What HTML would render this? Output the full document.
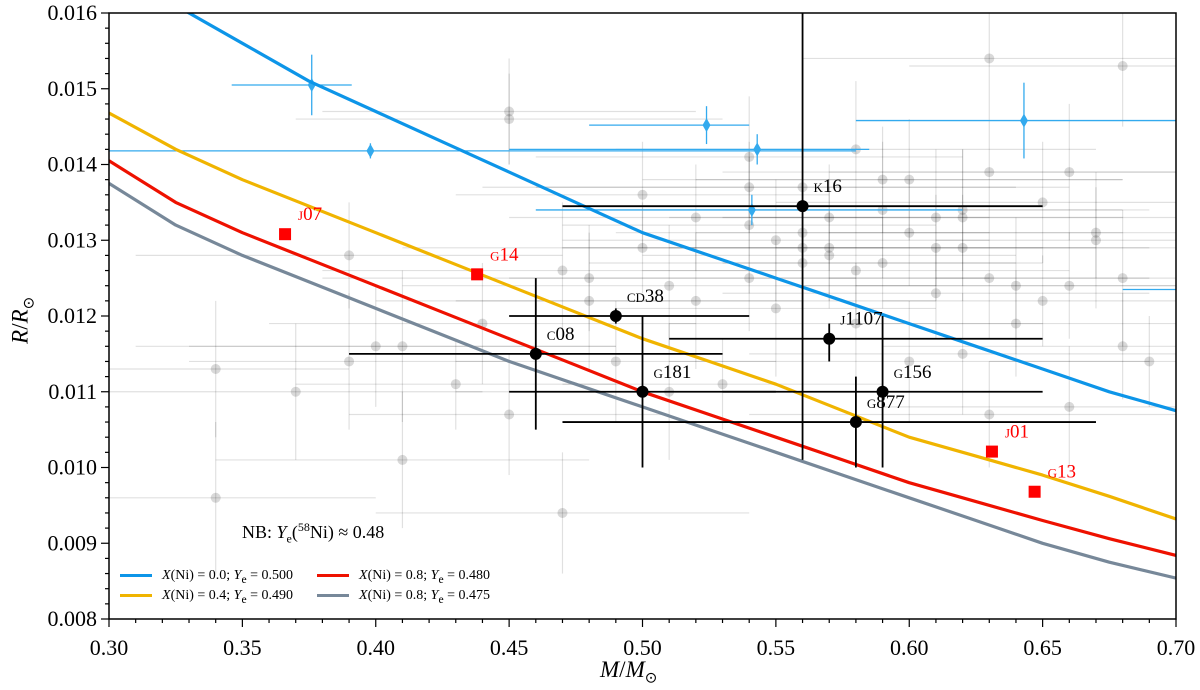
<!DOCTYPE html>
<html><head><meta charset="utf-8"><style>
body{margin:0;background:#fff}
svg{display:block;font-family:"Liberation Serif",serif}
</style></head><body>
<svg id="chart" width="1200" height="690"></svg>
<script>
const curveM=[0.30,0.325,0.35,0.375,0.40,0.425,0.45,0.475,0.50,0.525,0.55,0.575,0.60,0.625,0.65,0.675,0.70];
const blueR=[0.0167,0.0161,0.0156,0.0151,0.0147,0.0143,0.0139,0.0135,0.0131,0.0128,0.0125,0.0122,0.0119,0.0116,0.0113,0.0110,0.01075];
const yellowR=[0.01468,0.0142,0.0138,0.01345,0.0131,0.01275,0.0124,0.01205,0.0117,0.0114,0.0111,0.01075,0.0104,0.01015,0.0099,0.00962,0.00932];
const redR=[0.01405,0.0135,0.0131,0.01275,0.0124,0.01205,0.0117,0.01135,0.0110,0.0107,0.0104,0.0101,0.0098,0.00955,0.0093,0.00906,0.00884];
const greyR=[0.01375,0.0132,0.0128,0.01245,0.0121,0.01175,0.0114,0.0111,0.0108,0.0105,0.0102,0.0099,0.0096,0.0093,0.0090,0.00875,0.00854];
const grayM=[0.34,0.34,0.37,0.39,0.39,0.40,0.41,0.41,0.43,0.44,0.45,0.45,0.45,0.47,0.47,0.48,0.48,0.49,0.50,0.50,0.51,0.51,0.52,0.52,0.53,0.54,0.54,0.54,0.54,0.55,0.55,0.56,0.56,0.56,0.56,0.57,0.57,0.57,0.58,0.58,0.58,0.59,0.59,0.60,0.60,0.61,0.61,0.61,0.62,0.62,0.62,0.62,0.63,0.63,0.63,0.63,0.64,0.64,0.65,0.65,0.66,0.66,0.66,0.67,0.67,0.68,0.68,0.68,0.69,0.60,0.59];
const grayR=[0.0113,0.0096,0.0110,0.0128,0.0114,0.0116,0.0116,0.0101,0.0111,0.0119,0.0147,0.0146,0.0107,0.0126,0.0094,0.0125,0.0122,0.0114,0.0136,0.0129,0.0110,0.0124,0.0133,0.0122,0.0111,0.0141,0.0137,0.0132,0.0125,0.0130,0.0121,0.0137,0.0131,0.0129,0.0127,0.0133,0.0129,0.0128,0.0142,0.0126,0.0119,0.0134,0.0127,0.0131,0.0114,0.0133,0.0129,0.0123,0.0134,0.0133,0.0129,0.0115,0.0154,0.0139,0.0125,0.0107,0.0124,0.0119,0.0135,0.0122,0.0139,0.0124,0.0108,0.0130,0.0131,0.0153,0.0125,0.0116,0.0114,0.0138,0.0138];
const grayMErr=[0.05,0.06,0.07,0.08,0.06,0.09,0.08,0.07,0.06,0.08,0.07,0.08,0.06,0.09,0.07,0.1,0.08,0.06,0.07,0.09,0.08,0.1,0.07,0.09,0.06,0.08,0.1,0.07,0.09,0.08,0.06,0.1,0.07,0.09,0.08,0.06,0.1,0.07,0.09,0.08,0.07,0.1,0.06,0.08,0.09,0.07,0.1,0.08,0.06,0.09,0.07,0.08,0.07,0.1,0.06,0.09,0.08,0.07,0.1,0.06,0.09,0.08,0.07,0.06,0.1,0.08,0.07,0.09,0.06,0.08,0.09];
const grayRErr=[0.0009,0.001,0.0009,0.0007,0.0009,0.0008,0.001,0.0009,0.0006,0.0008,0.0007,0.0006,0.0008,0.0009,0.0008,0.0007,0.0009,0.0008,0.0007,0.0006,0.0009,0.0008,0.0007,0.0009,0.0006,0.0008,0.0006,0.0009,0.0007,0.0008,0.0009,0.0007,0.0006,0.0008,0.0009,0.0007,0.0008,0.0006,0.0009,0.0007,0.0008,0.0009,0.0006,0.0007,0.0008,0.0009,0.0007,0.0006,0.0008,0.0009,0.0007,0.0008,0.0009,0.0006,0.0008,0.0007,0.0009,0.0007,0.0008,0.0006,0.0009,0.0007,0.0008,0.0009,0.0006,0.0008,0.0009,0.0007,0.0006,0.0008,0.0007];
const blackNames=["k16","cd38","c08","g181","j1107","g156","g877"];
const blackM=[0.56,0.49,0.46,0.50,0.57,0.59,0.58];
const blackR=[0.01345,0.0120,0.0115,0.0110,0.0117,0.0110,0.0106];
const blackMLo=[0.47,0.45,0.39,0.45,0.51,0.53,0.47];
const blackMHi=[0.65,0.54,0.53,0.55,0.65,0.65,0.67];
const blackRLo=[0.0101,0.0119,0.0105,0.0100,0.0114,0.0100,0.0100];
const blackRHi=[0.0165,0.0121,0.0125,0.0120,0.0119,0.0120,0.0112];
const redNames=["j07","g14","j01","g13"];
const redM=[0.366,0.438,0.631,0.647];
const redPtR=[0.01308,0.01255,0.01021,0.00968];
const blueM=[0.376,0.398,0.524,0.543,0.541,0.643,0.71];
const bluePtR=[0.01505,0.01418,0.01452,0.01420,0.01340,0.01458,0.01235];
const blueMLo=[0.346,0.30,0.48,0.45,0.46,0.58,0.68];
const blueMHi=[0.391,0.58,0.54,0.585,0.62,0.71,0.71];
const blueRErr=[0.0004,0.0001,0.00025,0.0002,0.0002,0.0005,0.0001];
const xTicks=["0.30","0.35","0.40","0.45","0.50","0.55","0.60","0.65","0.70"];
const yTicks=["0.008","0.009","0.010","0.011","0.012","0.013","0.014","0.015","0.016"];

const X0=109,X1=1176,Y0=619,Y1=13;
const sx=m=>X0+(m-0.30)/0.40*(X1-X0);
const sy=r=>Y0-(r-0.008)/0.008*(Y0-Y1);
const NS="http://www.w3.org/2000/svg";
const svg=document.getElementById('chart');
function mk(tag,attrs,parent){const e=document.createElementNS(NS,tag);for(const k in attrs)e.setAttribute(k,attrs[k]);(parent||svg).appendChild(e);return e;}
const defs=mk('defs',{});const cp=mk('clipPath',{id:'pc'},defs);mk('rect',{x:X0,y:Y1,width:X1-X0,height:Y0-Y1},cp);
const plot=mk('g',{'clip-path':'url(#pc)'});


for(let i=0;i<grayM.length;i++){
  const g=mk('g',{stroke:'#000','stroke-opacity':0.12,'stroke-width':1.2},plot);
  
  
  mk('line',{x1:sx(grayM[i]-grayMErr[i]),x2:sx(grayM[i]+grayMErr[i]),y1:sy(grayR[i]),y2:sy(grayR[i])},g);
  mk('line',{x1:sx(grayM[i]),x2:sx(grayM[i]),y1:sy(grayR[i]-grayRErr[i]),y2:sy(grayR[i]+grayRErr[i])},g);
  mk('circle',{cx:sx(grayM[i]),cy:sy(grayR[i]),r:5,fill:'#000','fill-opacity':0.15,stroke:'none'},g);
}
for(let i=0;i<blueM.length;i++){
  const g=mk('g',{stroke:'#33aaee','stroke-width':1.3,fill:'#33aaee'},plot);
  
  
  const x=sx(blueM[i]),y=sy(bluePtR[i]);
  mk('line',{x1:sx(blueMLo[i]),x2:sx(blueMHi[i]),y1:y,y2:y},g);
  mk('line',{x1:x,x2:x,y1:sy(bluePtR[i]-blueRErr[i]),y2:sy(bluePtR[i]+blueRErr[i])},g);
  mk('path',{d:`M${x} ${y-7}L${x+4} ${y}L${x} ${y+7}L${x-4} ${y}Z`,stroke:'none'},g);
}
const series=[[blueR,'#0d95e8','curve-xni-0.0'],[yellowR,'#f0b400','curve-xni-0.4'],[redR,'#ee1100','curve-xni-0.8-ye-480'],[greyR,'#778899','curve-xni-0.8-ye-475']];
series.forEach(([arr,c,n])=>{
  const p=mk('path',{d:arr.map((r,i)=>(i?'L':'M')+sx(curveM[i]).toFixed(1)+' '+sy(r).toFixed(1)).join(''),fill:'none',stroke:c,'stroke-width':3.2,'stroke-linejoin':'round'},plot);
  
  
});
for(let i=0;i<blackM.length;i++){
  const g=mk('g',{stroke:'#000','stroke-width':1.8},plot);
  
  
  const x=sx(blackM[i]),y=sy(blackR[i]);
  mk('line',{x1:sx(blackMLo[i]),x2:sx(blackMHi[i]),y1:y,y2:y},g);
  mk('line',{x1:x,x2:x,y1:sy(blackRLo[i]),y2:sy(blackRHi[i])},g);
  mk('circle',{cx:x,cy:y,r:6,fill:'#000',stroke:'none'},g);
  const t=mk('text',{x:x+11,y:y-14,'font-size':19,'font-variant':'small-caps',fill:'#000',stroke:'none'},svg);
  t.textContent=blackNames[i];
  
  
}
for(let i=0;i<redM.length;i++){
  const x=sx(redM[i]),y=sy(redPtR[i]);
  const s=mk('rect',{x:x-6,y:y-6,width:12,height:12,fill:'#ff0000'},plot);
  
  
  const t=mk('text',{x:x+13,y:y-14,'font-size':19,'font-variant':'small-caps',fill:'#ff0000'});
  t.textContent=redNames[i];
  
  
}
const fr=mk('rect',{x:X0,y:Y1,width:X1-X0,height:Y0-Y1,fill:'none',stroke:'#000','stroke-width':1.5});


for(let k=0;k<=40;k++){const m=0.30+k*0.01,x=sx(m),maj=k%5===0;
  mk('line',{x1:x,x2:x,y1:Y0,y2:Y0+(maj?8:4),stroke:'#000','stroke-width':1.2});}
xTicks.forEach(s=>{const t=mk('text',{x:sx(parseFloat(s)),y:Y0+36,'font-size':22,'text-anchor':'middle'});t.textContent=s;
  
  });
for(let k=0;k<=40;k++){const r=0.008+k*0.0002,y=sy(r),maj=k%5===0;
  mk('line',{x1:X0,x2:X0-(maj?8:4),y1:y,y2:y,stroke:'#000','stroke-width':1.2});}
yTicks.forEach(s=>{const t=mk('text',{x:X0-12,y:sy(parseFloat(s))+7,'font-size':22,'text-anchor':'end'});t.textContent=s;
  
  });
</script>
<div style="position:absolute;left:0;top:0;width:1200px;height:690px;pointer-events:none;font-family:'Liberation Serif',serif">
  <div style="position:absolute;left:600px;top:657px;font-size:23px;"><i>M</i>/<i>M</i><sub style="font-size:15px">⊙</sub></div>
  <div style="position:absolute;left:-12px;top:305px;font-size:23px;transform:rotate(-90deg);width:70px;text-align:center"><i>R</i>/<i>R</i><sub style="font-size:15px">⊙</sub></div>
  <div style="position:absolute;left:242px;top:520px;font-size:18px;">NB: <i>Y</i><sub style="font-size:12px">e</sub>(<sup style="font-size:12px">58</sup>Ni) ≈ 0.48</div>
  <div style="position:absolute;left:120px;top:568px;font-size:14px;width:340px;height:40px">
    <div style="position:absolute;left:0;top:0;white-space:nowrap"><span style="display:inline-block;width:32px;height:3px;background:#0d95e8;vertical-align:middle;margin-right:10px"></span><i>X</i>(Ni) = 0.0; <i>Y</i><sub>e</sub> = 0.500</div>
    <div style="position:absolute;left:0;top:20px;white-space:nowrap"><span style="display:inline-block;width:32px;height:3px;background:#f0b400;vertical-align:middle;margin-right:10px"></span><i>X</i>(Ni) = 0.4; <i>Y</i><sub>e</sub> = 0.490</div>
    <div style="position:absolute;left:197px;top:0;white-space:nowrap"><span style="display:inline-block;width:32px;height:3px;background:#ee1100;vertical-align:middle;margin-right:10px"></span><i>X</i>(Ni) = 0.8; <i>Y</i><sub>e</sub> = 0.480</div>
    <div style="position:absolute;left:197px;top:20px;white-space:nowrap"><span style="display:inline-block;width:32px;height:3px;background:#778899;vertical-align:middle;margin-right:10px"></span><i>X</i>(Ni) = 0.8; <i>Y</i><sub>e</sub> = 0.475</div>
  </div>
</div>
</body></html>
